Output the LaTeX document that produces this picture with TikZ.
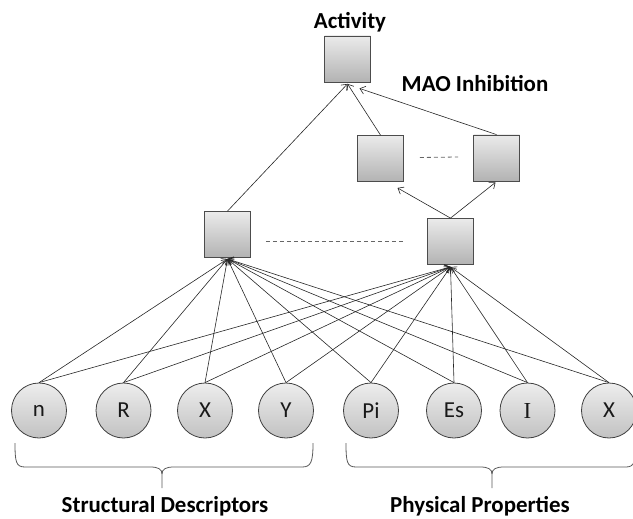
\documentclass[tikz,border=0pt]{standalone}
\usepackage{fontspec}
\setmainfont{Carlito}
\newfontfamily\serifI{Liberation Serif}
\usetikzlibrary{arrows.meta,calc}
\begin{document}
\begin{tikzpicture}[x=1bp,y=-1bp,
  boxnode/.style={draw=black!70, line width=0.8bp, minimum size=46bp, inner sep=0pt,
    top color=black!8, bottom color=black!30},
  inode/.style={circle, draw=black!75, line width=0.8bp, minimum size=55bp, inner sep=0pt,
    top color=black!7, bottom color=black!24, font=\fontsize{23}{26}\selectfont, text=black!90},
  title/.style={font=\fontsize{23}{26}\selectfont\bfseries},
  arr/.style={draw=black!85, line width=0.6bp, -{Straight Barb[length=5bp,width=8bp]}},
  dashline/.style={draw=black!60, line width=0.8bp, dash pattern=on 4bp off 3bp},
  bracepath/.style={draw=black!65, line width=0.8bp}]
\useasboundingbox (0,0) rectangle (633,519);

% boxes
\node[boxnode] (act) at (347.5,59) {};
\node[boxnode] (m1) at (380.5,158.5) {};
\node[boxnode] (m2) at (496.5,158) {};
\node[boxnode] (h1) at (227.5,234.5) {};
\node[boxnode] (h2) at (450.5,241.5) {};

% input nodes
\node[inode] (n)  at (39,410.5) {n};
\node[inode] (R)  at (123.5,410.5) {R};
\node[inode] (X1) at (205,410.5) {X};
\node[inode] (Y)  at (286,410.5) {Y};
\node[inode] (Pi) at (371,410.5) {Pi};
\node[inode] (Es) at (454,410.5) {Es};
\node[inode] (I)  at (527.5,410.5) {\serifI I};
\node[inode] (X2) at (609,410.5) {X};

% titles
\node[title] (tact) at (350,22) {Activity};
\node[title] (tmao) at (475,84) {MAO Inhibition};
\node[title] (tsd) at (165,506) {Structural Descriptors};
\node[title] (tpp) at (480,506) {Physical Properties};

% dashed links
\draw[dashline] ($(h1.east)+(15,7)$) coordinate (d1a) -- ($(h2.west)+(-22,0)$) coordinate (d1b);
\draw[dashline] ($(m1.east)+(16,-1)$) coordinate (d2a) -- ($(m2.west)+(-15,-1)$) coordinate (d2b);

% connections from inputs
\foreach \s in {n,R,X1,Y,Pi,Es,I,X2}{
  \draw[arr] (\s.north) -- ($(h1.south)+(0,1)$);
  \draw[arr] (\s.north) -- ($(h2.south)+(0,2)$);
}

% upper connections
\draw[arr] (h1.north) -- ($(act.south)+(0,1.5)$);
\draw[arr] (m1.north) -- ($(act.south)+(0,1.5)$);
\draw[arr] (m2.north) -- ($(act.south)+(12,6)$);
\draw[arr] (h2.north) -- ($(m1.south)+(17,6)$);
\draw[arr] (h2.north) -- ($(m2.south)+(-1,1)$);

% braces
\draw[bracepath] (15,443) .. controls (15,462) and (16,467) .. (25,467) -- (150,467)
  .. controls (158,467) and (162,469) .. (162,474) -- (162,488);
\draw[bracepath] (162,474) .. controls (162,469) and (166,467) .. (174,467) -- (302,467)
  .. controls (311,467) and (313,462) .. (313,443);
\draw[bracepath] (346,443) .. controls (346,462) and (347,467) .. (356,467) -- (480,467)
  .. controls (488,467) and (492,469) .. (492,474) -- (492,488);
\draw[bracepath] (492,474) .. controls (492,469) and (496,467) .. (504,467) -- (626,467)
  .. controls (634,467) and (636,462) .. (636,443);
\end{tikzpicture}
\end{document}
